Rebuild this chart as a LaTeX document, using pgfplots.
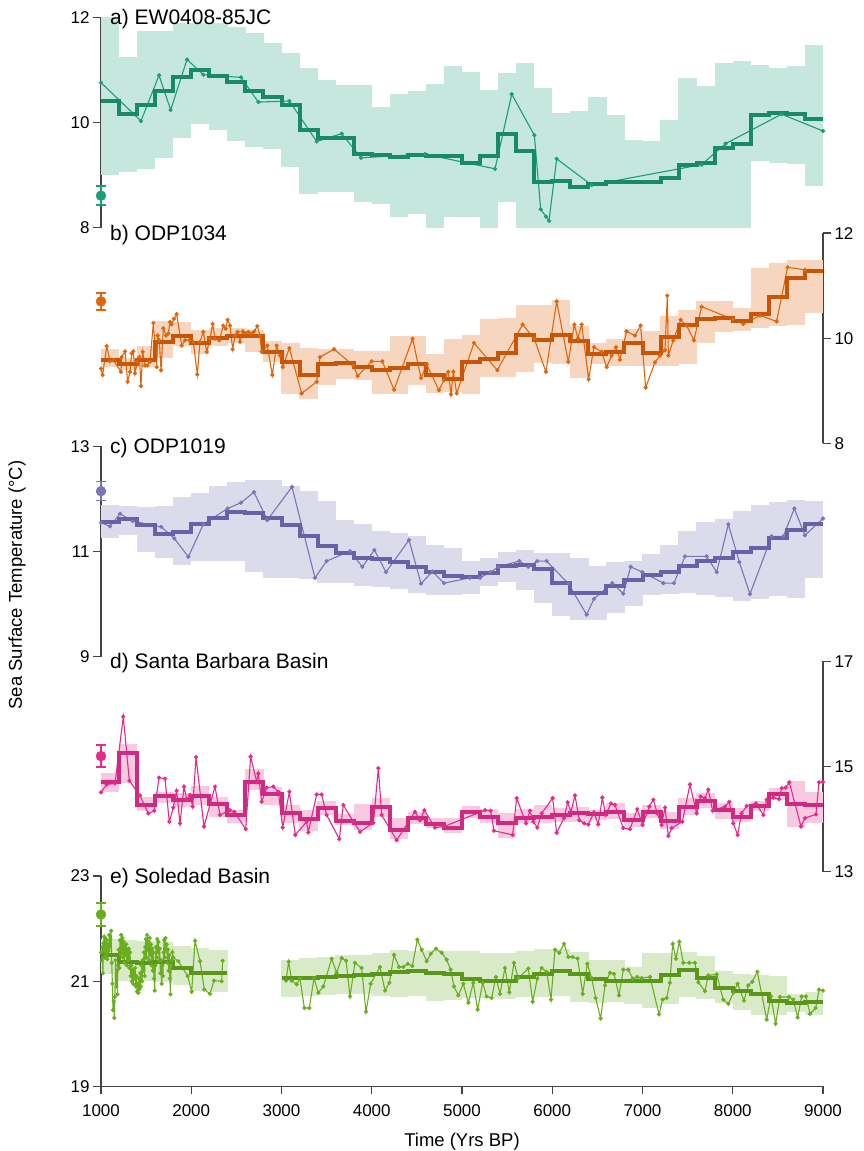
\documentclass[border=0pt]{standalone}
\usepackage{fontspec}
\setmainfont{Liberation Sans}
\usepackage{pgfplots}
\pgfplotsset{compat=1.18}
\usepackage{pgfplotstable}

% Dark2-style palette: thin record, binned mean, uncertainty band
\definecolor{axisgray}{HTML}{444444}
\definecolor{aLine}{HTML}{1B9E77}\definecolor{aThick}{HTML}{198A67}\definecolor{aBand}{HTML}{C6E7DD}
\definecolor{bLine}{HTML}{E0660C}\definecolor{bThick}{HTML}{C85606}\definecolor{bBand}{HTML}{F6D6BF}
\definecolor{cLine}{HTML}{7A75B6}\definecolor{cThick}{HTML}{6861A8}\definecolor{cBand}{HTML}{DCDBEC}
\definecolor{dLine}{HTML}{E7298A}\definecolor{dThick}{HTML}{CF2A80}\definecolor{dBand}{HTML}{F8C9E0}
\definecolor{eLine}{HTML}{6AAE20}\definecolor{eThick}{HTML}{5A961A}\definecolor{eBand}{HTML}{D9EAC9}

% ---- 200-yr binned means (m) with upper (u) / lower (l) bounds ----
\pgfplotstableread{
x m u l
1000 10.41 12.00 9.00
1200 10.16 11.25 9.06
1400 10.33 11.74 9.11
1600 10.61 11.74 9.32
1800 10.86 11.89 9.70
2000 11.00 11.89 9.98
2200 10.88 11.89 9.86
2400 10.77 11.81 9.65
2600 10.61 11.71 9.54
2800 10.48 11.51 9.50
3000 10.33 11.33 9.16
3200 9.85 11.03 8.64
3400 9.71 10.81 8.68
3600 9.70 10.71 8.67
3800 9.41 10.71 8.48
4000 9.38 10.29 8.46
4200 9.35 10.55 8.20
4400 9.38 10.60 8.27
4600 9.37 10.73 8.00
4800 9.37 11.08 8.20
5000 9.23 10.97 8.20
5200 9.37 10.62 8.00
5400 9.79 10.95 8.49
5600 9.46 11.14 8.00
5800 8.87 10.66 8.00
6000 8.89 10.19 8.00
6200 8.77 10.22 8.00
6400 8.84 10.48 8.00
6600 8.86 10.14 8.00
6800 8.87 9.67 8.00
7000 8.86 9.65 8.00
7200 8.94 10.05 8.00
7400 9.20 10.84 8.00
7600 9.24 10.70 8.00
7800 9.52 11.14 8.00
8000 9.59 11.18 8.00
8200 10.14 11.09 9.27
8400 10.18 11.04 9.24
8600 10.16 11.07 9.22
8800 10.07 11.47 8.80
9000 10.07 11.47 8.80
}\binA

\pgfplotstableread{
x m u l
1000 9.59 9.79 9.45
1200 9.50 9.62 9.40
1400 9.59 9.85 9.45
1600 9.93 10.32 9.63
1800 10.05 10.30 9.85
2000 9.90 10.15 9.70
2200 10.00 10.20 9.85
2400 10.05 10.20 9.90
2600 10.05 10.16 9.73
2800 9.73 9.95 9.55
3000 9.54 9.91 8.94
3200 9.30 9.81 8.85
3400 9.50 9.80 9.10
3600 9.52 9.79 9.22
3800 9.46 9.75 9.20
4000 9.39 9.75 8.93
4200 9.44 10.05 8.93
4400 9.50 10.05 9.10
4600 9.30 9.70 8.95
4800 9.23 9.99 8.98
5000 9.55 10.07 8.93
5200 9.61 10.36 9.26
5400 9.72 10.39 9.26
5600 10.07 10.64 9.36
5800 9.96 10.64 9.52
6000 10.07 10.72 9.50
6200 9.95 10.24 9.24
6400 9.69 9.91 9.50
6600 9.74 9.99 9.47
6800 9.90 10.18 9.47
7000 9.72 10.13 9.48
7200 10.02 10.42 9.48
7400 10.26 10.53 9.50
7600 10.36 10.70 9.90
7800 10.39 10.70 10.12
8000 10.33 10.58 10.13
8200 10.46 11.33 10.19
8400 10.78 11.44 10.24
8600 11.14 11.48 10.26
8800 11.27 11.48 10.48
9000 11.27 11.48 10.48
}\binB

\pgfplotstableread{
x m u l
1000 11.56 11.89 11.25
1200 11.62 11.87 11.32
1400 11.50 11.85 10.99
1600 11.34 11.87 10.87
1800 11.37 12.04 10.74
2000 11.52 12.12 10.83
2200 11.63 12.24 10.83
2400 11.75 12.32 10.83
2600 11.74 12.36 10.62
2800 11.64 12.36 10.50
3000 11.50 12.25 10.50
3200 11.29 12.15 10.48
3400 11.10 11.96 10.40
3600 10.97 11.61 10.41
3800 10.88 11.52 10.35
4000 10.85 11.39 10.32
4200 10.80 11.36 10.29
4400 10.70 11.29 10.21
4600 10.62 11.13 10.18
4800 10.54 11.07 10.18
5000 10.52 10.82 10.19
5200 10.59 10.88 10.34
5400 10.72 10.99 10.43
5600 10.75 11.03 10.27
5800 10.66 10.97 10.02
6000 10.41 10.97 9.78
6200 10.22 10.88 9.70
6400 10.21 10.73 9.70
6600 10.35 10.80 9.83
6800 10.46 10.83 9.97
7000 10.56 10.96 10.17
7200 10.62 11.13 10.19
7400 10.72 11.40 10.21
7600 10.82 11.56 10.18
7800 10.88 11.62 10.13
8000 10.99 11.77 10.06
8200 11.07 11.89 10.10
8400 11.25 11.94 10.16
8600 11.41 11.98 10.11
8800 11.52 11.97 10.50
9000 11.52 11.97 10.50
}\binC

\pgfplotstableread{
x m u l
1000 14.71 14.87 14.51
1200 15.25 15.43 14.68
1400 14.27 14.42 14.16
1600 14.44 14.52 14.30
1800 14.37 14.49 14.24
2000 14.44 14.63 14.27
2200 14.29 14.43 14.05
2400 14.08 14.17 13.92
2600 14.70 14.95 14.56
2800 14.47 14.62 14.27
3000 14.11 14.27 13.92
3200 14.00 14.17 13.77
3400 14.21 14.35 14.08
3600 13.97 14.09 13.89
3800 13.92 14.28 13.79
4000 14.23 14.40 14.05
4200 13.79 14.03 13.62
4400 14.03 14.14 13.90
4600 13.90 14.02 13.84
4800 13.83 14.02 13.73
5000 14.14 14.25 14.02
5200 14.05 14.19 13.92
5400 13.92 14.12 13.65
5600 14.03 14.19 13.92
5800 14.05 14.27 13.92
6000 14.07 14.21 13.95
6200 14.11 14.24 13.95
6400 14.09 14.17 13.98
6600 14.14 14.31 14.00
6800 13.98 14.11 13.86
7000 14.14 14.27 14.03
7200 13.97 14.13 13.81
7400 14.24 14.41 14.08
7600 14.35 14.49 14.21
7800 14.17 14.31 14.00
8000 14.05 14.22 13.95
8200 14.25 14.35 14.16
8400 14.47 14.59 14.37
8600 14.28 14.73 13.86
8800 14.26 14.52 13.92
9000 14.26 14.52 13.92
}\binD

\pgfplotstableread{
x m u l
1000 21.50 21.81 21.14
1200 21.36 21.79 21.01
1400 21.34 21.76 21.00
1600 21.37 21.75 20.99
1800 21.25 21.67 20.92
2000 21.16 21.63 20.82
2200 21.15 21.60 20.80
2400 21.15 21.60 20.80
}\binEa

\pgfplotstableread{
x m u l
3000 21.06 21.41 20.70
3200 21.06 21.45 20.71
3400 21.08 21.46 20.73
3600 21.10 21.50 20.75
3800 21.11 21.49 20.76
4000 21.14 21.54 20.71
4200 21.18 21.59 20.70
4400 21.19 21.58 20.71
4600 21.16 21.60 20.63
4800 21.13 21.58 20.65
5000 21.05 21.57 20.68
5200 21.00 21.54 20.68
5400 21.00 21.54 20.67
5600 21.08 21.58 20.70
5800 21.13 21.61 20.70
6000 21.20 21.62 20.71
6200 21.13 21.55 20.61
6400 21.04 21.41 20.59
6600 21.01 21.41 20.61
6800 21.01 21.27 20.57
7000 21.00 21.53 20.49
7200 21.11 21.53 20.56
7400 21.22 21.55 20.70
7600 21.06 21.48 20.67
7800 20.87 21.19 20.59
8000 20.82 21.14 20.46
8200 20.75 21.11 20.35
8400 20.63 21.10 20.35
8600 20.59 20.76 20.41
8800 20.61 20.80 20.35
9000 20.61 20.80 20.35
}\binEb

% ---- individual SST estimates ----
\pgfplotstableread{
x y
1000 10.76
1443 10.03
1643 10.90
1772 10.24
1953 11.20
2134 10.91
2551 10.86
2744 10.39
3087 10.41
3390 9.64
3667 9.79
3881 9.33
4590 9.40
5366 9.12
5551 10.54
5802 9.76
5872 8.35
5931 8.21
5964 8.13
6049 9.31
6437 8.81
7655 9.20
7921 9.60
8541 10.16
9000 9.84
}\ptsA

\pgfplotstableread{
x y
1000 9.42
1018 9.30
1063 9.85
1100 9.56
1137 9.58
1222 9.36
1229 9.64
1266 9.75
1295 9.17
1321 9.36
1340 9.71
1358 9.75
1377 9.33
1403 9.55
1425 9.64
1443 9.09
1462 9.74
1488 9.48
1513 9.48
1543 9.55
1580 10.29
1617 9.45
1628 10.05
1646 9.96
1665 9.39
1691 10.19
1720 10.05
1746 10.09
1765 10.31
1783 10.26
1809 10.37
1838 10.46
1894 9.86
1931 9.96
1979 9.96
2023 9.93
2067 9.31
2097 9.93
2134 10.12
2171 9.74
2208 9.99
2237 10.27
2263 9.99
2311 9.96
2355 10.24
2381 10.18
2403 10.35
2429 10.24
2459 9.79
2485 10.05
2514 10.12
2540 9.93
2570 10.13
2596 10.09
2632 10.12
2669 10.09
2699 10.13
2732 10.23
2762 10.05
2780 9.74
2843 9.86
2898 9.30
2946 9.86
2983 9.67
3013 9.45
3087 9.81
3223 8.95
3390 9.17
3426 9.64
3582 9.79
3796 9.48
3844 9.28
3999 9.56
4117 9.56
4247 9.02
4453 9.99
4546 9.24
4609 9.50
4745 9.01
4800 9.20
4848 9.36
4878 8.93
4904 9.36
4941 8.95
5133 9.91
5391 9.39
5672 10.26
5801 9.99
5930 9.36
6049 10.70
6178 9.55
6244 10.26
6285 10.00
6326 10.26
6403 9.22
6462 9.83
6547 9.74
6603 9.45
6658 9.67
6706 9.83
6750 9.59
6824 10.13
6917 10.05
6979 10.24
7035 9.06
7138 9.54
7194 9.67
7249 9.77
7275 10.81
7286 9.67
7341 9.96
7423 10.35
7489 10.24
7570 9.96
7655 10.60
7999 10.36
8117 10.27
8302 10.43
8486 10.32
8608 11.35
8800 11.30
}\ptsB

\pgfplotstableread{
x y
1000 11.55
1100 11.48
1211 11.72
1351 11.58
1668 11.47
1813 11.25
1968 10.90
2134 11.52
2403 11.82
2551 11.93
2695 12.13
2843 11.60
3116 12.23
3371 10.50
3500 10.82
3759 11.01
3896 10.71
4029 11.03
4158 10.61
4413 11.22
4546 10.39
4671 10.62
4801 10.40
5088 10.50
5199 10.50
5317 10.61
5402 10.71
5635 10.82
5735 10.71
5834 10.82
5938 10.82
6178 10.39
6381 9.80
6462 10.10
6665 10.40
6787 10.20
6869 10.71
6998 10.61
7231 10.40
7349 10.40
7471 10.91
7711 10.91
7822 10.61
7951 11.52
8073 10.80
8191 10.19
8431 11.29
8560 11.29
8682 11.82
8800 11.31
9000 11.63
}\ptsC

\pgfplotstableread{
x y
1000 14.51
1063 14.66
1155 14.68
1247 15.95
1314 14.73
1432 14.45
1524 14.11
1591 14.16
1643 14.79
1709 14.77
1757 13.95
1801 14.22
1838 14.54
1875 13.92
1920 14.62
1949 14.38
1986 14.46
2016 14.24
2053 15.18
2141 13.86
2263 14.62
2319 14.08
2429 14.17
2477 14.14
2603 13.81
2658 15.19
2725 14.71
2743 14.87
2780 14.33
2836 14.60
2910 14.62
2965 14.52
3013 13.84
3087 14.52
3153 13.70
3279 13.95
3297 13.75
3390 14.47
3445 14.47
3500 14.08
3641 13.62
3685 14.27
3796 13.95
3870 13.76
4018 13.93
4073 14.97
4110 14.08
4276 13.60
4479 14.14
4535 13.98
4583 14.17
4701 13.84
4800 13.86
5255 14.17
5317 14.16
5354 13.78
5561 13.70
5606 14.40
5709 13.92
5753 14.16
5790 13.95
5834 13.84
5883 14.11
6004 14.40
6049 13.74
6130 14.02
6171 14.32
6207 14.14
6252 14.45
6300 13.98
6355 13.92
6400 13.90
6462 14.13
6510 13.90
6555 14.41
6592 14.08
6651 14.30
6695 14.27
6787 13.83
6861 13.81
6942 14.19
7001 13.89
7075 14.24
7120 14.37
7164 14.11
7212 13.89
7249 14.22
7286 13.68
7323 13.83
7441 13.95
7526 14.66
7600 14.11
7644 14.43
7692 14.40
7729 14.56
7777 14.16
7914 14.24
7962 14.33
8006 13.92
8054 13.70
8098 14.11
8154 14.25
8257 14.30
8339 14.08
8376 14.37
8450 14.41
8512 14.38
8542 14.59
8586 14.60
8627 14.70
8756 13.86
8800 14.02
8922 14.09
8955 14.70
9000 14.71
}\ptsD

\pgfplotstableread{
x y
1000 21.55
1007 21.40
1014 21.65
1021 21.15
1028 21.72
1035 21.85
1042 21.45
1049 21.82
1056 21.50
1063 21.78
1070 21.42
1077 21.70
1084 21.58
1091 21.88
1098 21.65
1105 21.80
1112 21.96
1119 21.35
1126 20.95
1133 20.45
1140 20.62
1147 20.30
1154 20.70
1161 21.40
1168 20.90
1175 21.20
1182 20.75
1189 21.30
1196 21.60
1203 21.25
1210 21.78
1217 21.50
1224 21.88
1231 21.55
1238 21.82
1245 21.45
1252 21.75
1259 21.35
1266 21.65
1273 21.50
1280 21.70
1287 21.30
1294 21.60
1301 21.40
1308 21.62
1315 21.25
1322 21.55
1329 21.10
1336 21.30
1343 21.00
1350 21.22
1357 20.95
1364 21.18
1371 21.05
1378 21.25
1385 20.90
1392 21.10
1399 20.80
1406 20.95
1413 20.78
1420 21.05
1427 20.85
1434 21.15
1441 20.90
1448 21.30
1455 21.00
1462 21.40
1469 21.20
1476 21.55
1483 21.10
1490 21.65
1497 21.80
1504 21.45
1511 21.88
1518 21.60
1525 21.75
1532 21.40
1539 21.82
1546 21.50
1553 21.70
1560 21.30
1567 21.62
1574 21.20
1581 21.55
1588 21.05
1595 20.82
1602 21.30
1609 21.65
1616 21.45
1623 21.80
1630 21.55
1637 21.75
1644 21.40
1651 21.62
1658 21.15
1665 21.40
1672 20.95
1679 21.30
1686 21.10
1693 21.55
1700 21.78
1707 21.45
1714 21.82
1721 21.60
1728 21.70
1735 21.35
1742 21.60
1749 21.20
1756 21.50
1763 21.05
1770 20.75
1777 21.30
1784 21.40
1791 21.55
1800 21.45
1857 21.38
1960 21.10
2005 20.80
2042 21.77
2097 21.38
2145 20.84
2208 20.76
2252 21.01
2337 21.00
2348 21.39
}\ptsEa

\pgfplotstableread{
x y
3050 21.01
3079 21.37
3113 21.01
3168 20.94
3205 21.05
3253 20.49
3308 20.49
3360 21.06
3408 20.78
3463 20.90
3556 21.43
3611 21.16
3667 21.44
3715 21.39
3759 20.71
3814 21.35
3888 21.25
3936 20.42
3988 20.95
4091 21.27
4147 20.82
4195 20.97
4247 21.50
4302 21.27
4350 21.27
4398 21.33
4450 21.29
4505 21.79
4553 21.60
4609 21.38
4653 21.52
4712 21.62
4775 21.54
4830 21.41
4874 21.22
4911 20.90
4959 20.73
5015 20.95
5070 20.59
5125 20.97
5173 20.46
5229 20.97
5273 20.71
5328 20.68
5376 21.08
5421 20.76
5476 21.25
5524 20.79
5576 21.35
5624 21.06
5735 21.24
5783 20.61
5834 21.05
5882 21.25
5938 21.18
5986 20.65
6030 21.60
6078 21.54
6130 21.71
6178 21.46
6226 21.46
6281 21.43
6337 20.76
6389 21.33
6437 21.06
6481 20.68
6536 20.29
6584 20.92
6640 21.16
6684 21.14
6739 20.73
6787 21.22
6843 21.22
6891 21.05
6942 21.08
6990 21.06
7083 21.08
7183 20.37
7223 20.65
7267 20.68
7304 20.97
7334 21.71
7371 21.43
7408 21.75
7452 21.35
7519 21.35
7581 21.35
7618 20.98
7692 20.81
7729 21.11
7822 21.13
7895 20.65
7951 20.57
8006 20.78
8054 20.95
8124 20.63
8173 20.92
8217 20.99
8272 21.18
8376 20.27
8424 20.71
8475 20.19
8523 20.70
8623 20.70
8671 20.65
8719 20.31
8763 20.71
8811 20.71
8856 20.38
8919 20.49
8956 20.84
9000 20.82
}\ptsEb

\pgfplotsset{
  panel/.style={
    scale only axis, width=722pt, height=210.2pt,
    xmin=1000, xmax=9000, clip=false, anchor=south west,
    axis line style={line width=1.3pt, color=axisgray},
    tick align=outside, major tick length=8pt,
    every tick/.style={line width=1.3pt, color=axisgray},
    yticklabel style={font=\fontsize{17}{17}\selectfont, text=black},
    /pgf/number format/assume math mode=true,
  },
  % each 200-yr bin's range drawn as a bar 200 yr wide, from l to u
  sBand/.style={forget plot, draw=none, mark=none,
    error bars/.cd, y dir=both, y explicit, error mark=none,
    error bar style={draw=#1, line width=18.4pt}},
  sThin/.style={color=#1, line width=1.1pt, mark=*, mark size=1.5pt},
  sThick/.style={const plot, color=#1, line width=4pt, mark=none},
  sModern/.style={color=#1, only marks, mark=*, mark size=5pt,
    error bars/.cd, y dir=both, y explicit,
    error bar style={line width=1.5pt, color=#1},
    error mark options={line width=1.5pt, mark size=5pt, color=#1, rotate=90}},
}
\newcommand\paneltitle[1]{\node[anchor=base west, inner sep=0pt,
  font=\fontsize{21}{21}\selectfont, xshift=9pt, yshift=-7.5pt] at (rel axis cs:0,1) {#1};}

\begin{document}
\begin{tikzpicture}
\useasboundingbox (0,0) rectangle (863pt,1151pt);

% a) EW0408-85JC
\begin{axis}[panel, at={(101pt,923.3pt)}, axis x line=none, axis y line*=left,
    ymin=8, ymax=12, ytick={8,10,12}]
  \addplot[skip coords between index={40}{41}, sBand=aBand] table[x expr=\thisrow{x}+100, y=m,
    y error plus expr=\thisrow{u}-\thisrow{m}, y error minus expr=\thisrow{m}-\thisrow{l}] {\binA};
  \addplot[sThin=aLine] table {\ptsA};
  \addplot[sThick=aThick] table[x=x,y=m] {\binA};
  \addplot[sModern=aLine] coordinates {(1000,8.61) +- (0,0.18)};
  \paneltitle{a) EW0408-85JC}
\end{axis}

% b) ODP1034
\begin{axis}[panel, at={(101pt,707.7pt)}, axis x line=none, axis y line*=right,
    ymin=8, ymax=12, ytick={8,10,12}]
  \addplot[skip coords between index={40}{41}, sBand=bBand] table[x expr=\thisrow{x}+100, y=m,
    y error plus expr=\thisrow{u}-\thisrow{m}, y error minus expr=\thisrow{m}-\thisrow{l}] {\binB};
  \addplot[sThin=bLine] table {\ptsB};
  \addplot[sThick=bThick] table[x=x,y=m] {\binB};
  \addplot[sModern=bLine] coordinates {(1000,10.70) +- (0,0.16)};
  \paneltitle{b) ODP1034}
\end{axis}

% c) ODP1019
\begin{axis}[panel, at={(101pt,494.3pt)}, axis x line=none, axis y line*=left,
    ymin=9, ymax=13, ytick={9,11,13}]
  \addplot[skip coords between index={40}{41}, sBand=cBand] table[x expr=\thisrow{x}+100, y=m,
    y error plus expr=\thisrow{u}-\thisrow{m}, y error minus expr=\thisrow{m}-\thisrow{l}] {\binC};
  \addplot[sThin=cLine] table {\ptsC};
  \addplot[sThick=cThick] table[x=x,y=m] {\binC};
  \addplot[sModern=cLine] coordinates {(1000,12.15) +- (0,0.18)};
  \paneltitle{c) ODP1019}
\end{axis}

% d) Santa Barbara Basin
\begin{axis}[panel, at={(101pt,279.3pt)}, axis x line=none, axis y line*=right,
    ymin=13, ymax=17, ytick={13,15,17}]
  \addplot[skip coords between index={40}{41}, sBand=dBand] table[x expr=\thisrow{x}+100, y=m,
    y error plus expr=\thisrow{u}-\thisrow{m}, y error minus expr=\thisrow{m}-\thisrow{l}] {\binD};
  \addplot[sThin=dLine] table {\ptsD};
  \addplot[sThick=dThick] table[x=x,y=m] {\binD};
  \addplot[sModern=dLine] coordinates {(1000,15.20) +- (0,0.21)};
  \paneltitle{d) Santa Barbara Basin}
\end{axis}

% e) Soledad Basin
\begin{axis}[panel, at={(101pt,64.7pt)}, axis x line*=bottom, axis y line*=left,
    ymin=19, ymax=23, ytick={19,21,23},
    xtick={1000,2000,...,9000}, scaled x ticks=false,
    /pgf/number format/1000 sep={},
    xticklabel style={font=\fontsize{17}{17}\selectfont, text=black, yshift=-7pt},
    xlabel={Time (Yrs BP)},
    xlabel style={font=\fontsize{18.5}{18.5}\selectfont, yshift=-9pt}]
  \addplot[skip coords between index={7}{8}, sBand=eBand] table[x expr=\thisrow{x}+100, y=m,
    y error plus expr=\thisrow{u}-\thisrow{m}, y error minus expr=\thisrow{m}-\thisrow{l}] {\binEa};
  \addplot[skip coords between index={30}{31}, sBand=eBand] table[x expr=\thisrow{x}+100, y=m,
    y error plus expr=\thisrow{u}-\thisrow{m}, y error minus expr=\thisrow{m}-\thisrow{l}] {\binEb};
  \addplot[sThin=eLine] table {\ptsEa};
  \addplot[sThin=eLine] table {\ptsEb};
  \addplot[sThick=eThick] table[x=x,y=m] {\binEa};
  \addplot[sThick=eThick] table[x=x,y=m] {\binEb};
  \addplot[sModern=eLine] coordinates {(1000,22.27) +- (0,0.22)};
  \paneltitle{e) Soledad Basin}
\end{axis}

\node[rotate=90, font=\fontsize{18.5}{18.5}\selectfont] at (17pt,566pt) {Sea Surface Temperature (°C)};
\end{tikzpicture}
\end{document}
